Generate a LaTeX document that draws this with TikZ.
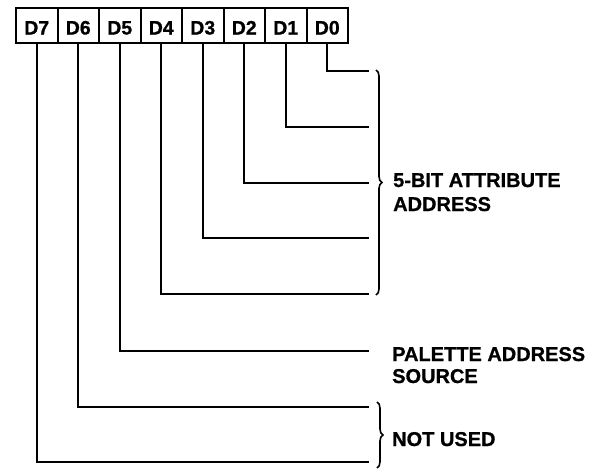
\documentclass[tikz,border=0pt]{standalone}
\usepackage{fontspec}
\setmainfont[BoldFeatures={FakeBold=0.8}]{Liberation Sans}
\usetikzlibrary{decorations.pathreplacing}
\begin{document}
\begin{tikzpicture}[x=1pt,y=1pt,
  bitbox/.style={draw,line width=2pt,minimum width=41.5pt,minimum height=35pt,inner sep=0pt,
    text height=18pt,text depth=0pt,
    font=\bfseries\fontsize{19.5}{22}\selectfont},
  wire/.style={line width=2pt},
  bracestyle/.style={line width=1.6pt,decorate,decoration={brace,amplitude=6pt}},
  lbl/.style={anchor=base west,align=left,inner sep=0pt}]
\useasboundingbox (0,0) rectangle (598,-472);
\foreach \n [count=\i from 0] in {D7,D6,D5,D4,D3,D2,D1,D0}
  \node[bitbox] (\n) at ({36.75+41.5*\i},-25.5) {\n};
\coordinate (e0) at (369,-71);
\coordinate (e1) at (369,-127);
\coordinate (e2) at (369,-183);
\coordinate (e3) at (369,-238);
\coordinate (e4) at (369,-294);
\coordinate (e5) at (369,-351);
\coordinate (e6) at (369,-407);
\coordinate (e7) at (369,-462);
\draw[wire] (D0.south) |- (e0);
\draw[wire] (D1.south) |- (e1);
\draw[wire] (D2.south) |- (e2);
\draw[wire] (D3.south) |- (e3);
\draw[wire] (D4.south) |- (e4);
\draw[wire] (D5.south) |- (e5);
\draw[wire] (D6.south) |- (e6);
\draw[wire] (D7.south) |- (e7);
\coordinate (b1t) at (376,-70);
\coordinate (b1b) at (376,-295);
\coordinate (b2t) at (377,-402);
\coordinate (b2b) at (377,-468);
\draw[bracestyle] (b1t) -- (b1b);
\draw[bracestyle] (b2t) -- (b2b);
\node[lbl,font=\bfseries\fontsize{20}{24}\selectfont] (attr) at (393,-211) {5-BIT ATTRIBUTE\\ADDRESS};
\node[lbl,font=\bfseries\fontsize{20}{22}\selectfont] (pal) at (392,-383) {PALETTE ADDRESS\\SOURCE};
\node[lbl,font=\bfseries\fontsize{20}{22}\selectfont] (nu) at (392,-446) {NOT USED};
\end{tikzpicture}
\end{document}
